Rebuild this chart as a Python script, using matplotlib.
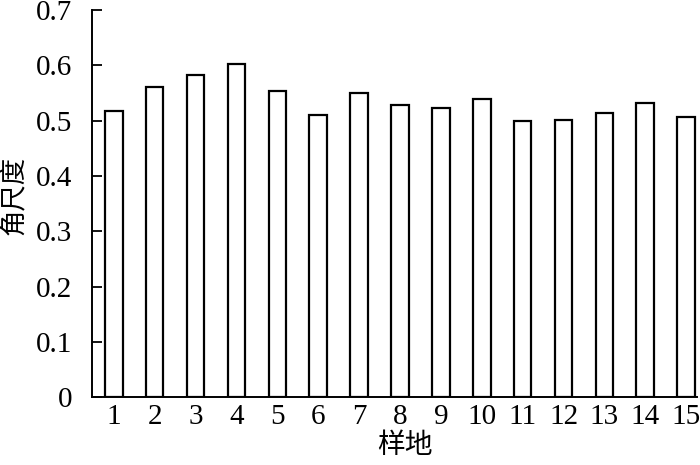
import matplotlib
matplotlib.use("Agg")
import matplotlib.pyplot as plt

# 样地编号与角尺度
plots = list(range(1, 16))
angle_index = [0.518, 0.562, 0.582, 0.602, 0.554, 0.511, 0.551, 0.529,
               0.524, 0.540, 0.499, 0.501, 0.514, 0.532, 0.506]
yticks = [0, 0.1, 0.2, 0.3, 0.4, 0.5, 0.6, 0.7]
ytick_labels = ["0", "0.1", "0.2", "0.3", "0.4", "0.5", "0.6", "0.7"]

num_font = "Liberation Serif"
cjk_font = ["Noto Sans CJK SC", "DejaVu Sans"]

fig = plt.figure(figsize=(7, 4.65), dpi=100)
ax = fig.add_axes([0.131, 0.146, 0.865, 0.832])

ax.bar(plots, angle_index, width=0.43, facecolor="white",
       edgecolor="black", linewidth=1.6)

ax.set_xlim(0.46, 15.27)
ax.set_ylim(0, 0.7)
ax.set_yticks(yticks)
ax.set_yticklabels(ytick_labels, fontfamily=num_font, fontsize=21)
ax.set_xticks(plots)
ax.set_xticklabels([str(p) for p in plots], fontfamily=num_font, fontsize=21)

ax.tick_params(axis="y", direction="in", length=7, width=1.3, pad=14)
ax.tick_params(axis="x", length=0, pad=5)

for side in ["top", "right"]:
    ax.spines[side].set_visible(False)
for side in ["left", "bottom"]:
    ax.spines[side].set_linewidth(1.4)

ax.set_ylabel("角尺度", family=cjk_font, fontsize=19, fontweight="light")
ax.set_xlabel("样地", family=cjk_font, fontsize=20, fontweight="light")
ax.yaxis.set_label_coords(-0.105, 0.52)
ax.xaxis.set_label_coords(0.517, -0.085)

fig.savefig("out.png", dpi=100)
